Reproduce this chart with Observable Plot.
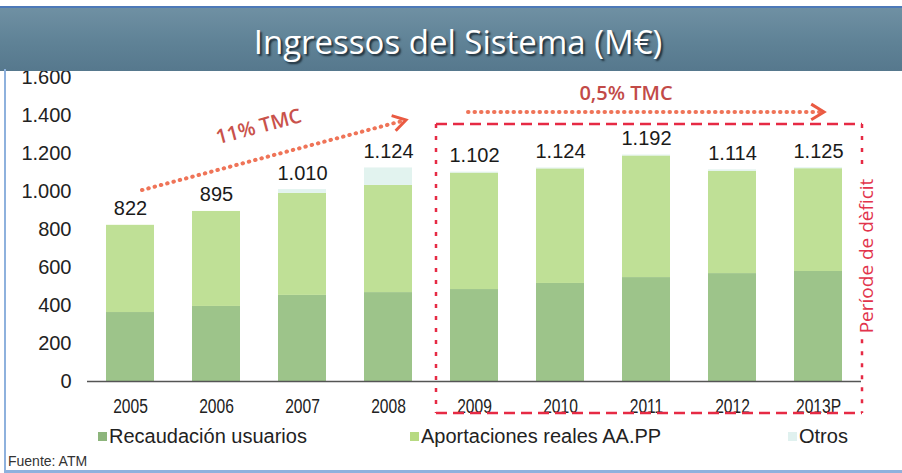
<!DOCTYPE html>
<html><head><meta charset="utf-8">
<script src="https://cdn.jsdelivr.net/npm/d3@7"></script>
<script src="https://cdn.jsdelivr.net/npm/@observablehq/plot@0.6"></script>
<style>
html,body{margin:0;padding:0;background:#fff;}
#wrap{position:relative;width:902px;height:473px;overflow:hidden;background:#fff;font-family:"Liberation Sans",Arial,sans-serif;}
#chart{position:absolute;left:0;top:0;}
#banner{position:absolute;left:0;top:6px;width:902px;height:63px;background:linear-gradient(to bottom,#6f90a3 0%,#5f8296 55%,#56788d 100%);border-top:2px solid #4d79b8;z-index:2;display:flex;align-items:center;justify-content:center;}
#banner span{color:#fff;font-family:"Open Sans",sans-serif;font-size:33px;text-shadow:2px 2px 2px #1d2d38;margin-left:14px;margin-top:4px;}
#frameL{position:absolute;left:4px;top:69px;width:2px;height:402px;background:#8eb1dd;z-index:3;}
#frameB{position:absolute;left:4px;top:470px;width:898px;height:3px;background:#8eb1dd;z-index:3;}
.leg{position:absolute;top:425px;font-family:"Liberation Sans",Arial,sans-serif;font-size:20px;color:#222;display:flex;align-items:center;white-space:nowrap;}
.leg i{display:inline-block;width:9px;height:9px;margin-right:2px;}
#src{position:absolute;left:8px;top:453px;font-size:14px;line-height:16px;color:#333;font-family:"Liberation Sans",Arial,sans-serif;}
</style></head>
<body><div id="wrap">
<div id="chart"></div>
<div id="banner"><span>Ingressos del Sistema (M€)</span></div>
<div id="frameL"></div><div id="frameB"></div>
<div id="legend"></div>
<div id="src">Fuente: ATM</div>
</div>
<script>
const years = ["2005","2006","2007","2008","2009","2010","2011","2012","2013P"];
const recaudacion = [363,395,453,468,484,516,547,568,579];
const aportaciones = [459,500,537,564,613,603,640,538,541];
const otros = [0,0,20,92,5,5,5,8,5];
const totals = [822,895,1010,1124,1102,1124,1192,1114,1125];
const seriesNames = ["Recaudación usuarios","Aportaciones reales AA.PP","Otros"];
const seriesColors = ["#9dc48a","#bfe096","#e2f3ef"];
const legendColors = ["#8db57c","#b7da82","#e0f1ef"];
const yTicks = [0,200,400,600,800,1000,1200,1400,1600];
const growth1 = {label:"11% TMC", from:["2005",1005], to:["2008",1374], text:["2006","2007",1332]};
const growth2 = {label:"0,5% TMC", from:["2009",1416], to:["2013P",1416], text:["2011",1505]};
const deficit = {label:"Període de dèficit", first:"2009", last:"2013P", top:1353, bottom:-168, labelY:658, gapTop:1100, gapBottom:220};

const loc = d3.formatLocale({decimal:",",thousands:".",grouping:[3],currency:["","€"]});
const fmt = loc.format(",d");

const rows = [];
years.forEach((yr,i)=>{
  rows.push({year:yr, serie:seriesNames[0], value:recaudacion[i]});
  rows.push({year:yr, serie:seriesNames[1], value:aportaciones[i]});
  rows.push({year:yr, serie:seriesNames[2], value:otros[i]});
});
const totalRows = years.map((yr,i)=>({year:yr,total:totals[i]}));

const plot = Plot.plot({
  width:902, height:473,
  marginTop:77, marginBottom:92, marginLeft:87, marginRight:41,
  style:{fontFamily:"Liberation Sans, Arial, sans-serif", fontSize:"20px", color:"#222", background:"transparent"},
  x:{domain:years, paddingInner:0.44, paddingOuter:0.22, label:null},
  y:{domain:[0,1600], label:null},
  color:{domain:seriesNames, range:seriesColors},
  marks:[
    Plot.barY(rows,{x:"year", y:"value", fill:"serie", order:seriesNames}),
    Plot.ruleY([0],{stroke:"#555", strokeWidth:1.5}),
    Plot.axisY({ticks:yTicks, tickFormat:fmt, tickSize:0, tickPadding:16, fontSize:20, label:null}),
    Plot.axisX({tickSize:0, tickPadding:17, fontSize:20, label:null}),
    Plot.text(totalRows,{x:"year", y:"total", text:d=>fmt(d.total), lineAnchor:"bottom", dy:-10, fontSize:20, fill:"#1a1a1a"})
  ]
});
document.getElementById("chart").appendChild(plot);

// condensed look of the year labels
d3.select(plot).selectAll('g[aria-label="x-axis tick label"] text').each(function(){
  const t = this.getAttribute("transform") || "";
  this.setAttribute("transform", t + " scale(0.78,1.05)");
});

// annotations via the plot's scales
const xs = plot.scale("x"), ys = plot.scale("y");
const cx = v => xs.apply(v) + xs.bandwidth/2;
const svg = d3.select(plot);
const g = svg.append("g");
function dottedArrow(x1,y1,x2,y2){
  const a = Math.atan2(y2-y1,x2-x1);
  g.append("line").attr("x1",x1).attr("y1",y1).attr("x2",x2-3*Math.cos(a)).attr("y2",y2-3*Math.sin(a))
    .attr("stroke","#ef7458").attr("stroke-width",4).attr("stroke-dasharray","0.5 6").attr("stroke-linecap","round");
  const L=15, s=0.55;
  const p1=[x2-L*Math.cos(a-s), y2-L*Math.sin(a-s)], p2=[x2-L*Math.cos(a+s), y2-L*Math.sin(a+s)];
  g.append("path").attr("d",`M${p1}L${x2},${y2}L${p2}`).attr("fill","none").attr("stroke","#ea5a42").attr("stroke-width",3);
}
const a1x1 = cx(growth1.from[0])+12, a1y1 = ys.apply(growth1.from[1]);
const a1x2 = cx(growth1.to[0])+18, a1y2 = ys.apply(growth1.to[1]);
dottedArrow(a1x1,a1y1,a1x2,a1y2);
const ang = Math.atan2(a1y2-a1y1,a1x2-a1x1)*180/Math.PI;
const t1x = (cx(growth1.text[0])+cx(growth1.text[1]))/2, t1y = ys.apply(growth1.text[2]);
g.append("text").attr("transform",`translate(${t1x},${t1y}) rotate(${ang})`).attr("text-anchor","middle").attr("dominant-baseline","middle")
  .attr("font-family","Open Sans, sans-serif").attr("font-size",20).attr("font-weight",600).attr("fill","#c9524b").text(growth1.label);

dottedArrow(cx(growth2.from[0])-6, ys.apply(growth2.from[1]), cx(growth2.to[0])+6, ys.apply(growth2.to[1]));
g.append("text").attr("x",cx(growth2.text[0])-20).attr("y",ys.apply(growth2.text[1])).attr("text-anchor","middle").attr("dominant-baseline","middle")
  .attr("font-family","Open Sans, sans-serif").attr("font-size",20).attr("font-weight",600).attr("fill","#c24a48").text(growth2.label);

const step = xs.step;
const rx1 = xs.apply(deficit.first) - (step - xs.bandwidth)/2 + 5;
const rx2 = xs.apply(deficit.last) + xs.bandwidth + (step - xs.bandwidth)/2 + 1;
const ry1 = ys.apply(deficit.top), ry2 = ys.apply(deficit.bottom);
const gy1 = ys.apply(deficit.gapTop), gy2 = ys.apply(deficit.gapBottom);
g.append("path").attr("d",`M${rx1},${ry1}H${rx2}M${rx1},${ry2}H${rx2}`).attr("stroke","#e62a44").attr("stroke-width",2.5).attr("stroke-dasharray","11 6").attr("fill","none");
g.append("path").attr("d",`M${rx1},${ry1}V${ry2}M${rx2},${ry1}V${gy1}M${rx2},${gy2}V${ry2}`).attr("stroke","#e62a44").attr("stroke-width",2.5).attr("stroke-dasharray","4 8").attr("fill","none");
g.append("text").attr("transform",`translate(${rx2+11},${ys.apply(deficit.labelY)}) rotate(-90)`).attr("text-anchor","middle")
  .attr("font-family","Open Sans, sans-serif").attr("font-size",19).attr("fill","#e2344c").text(deficit.label);

// legend
const legendLeft = [98, 410, 788];
const legend = document.getElementById("legend");
seriesNames.forEach((n,i)=>{
  const d = document.createElement("div");
  d.className="leg"; d.style.left = legendLeft[i]+"px";
  d.innerHTML = `<i style="background:${legendColors[i]}"></i>${n}`;
  legend.appendChild(d);
});
</script>
</body></html>
